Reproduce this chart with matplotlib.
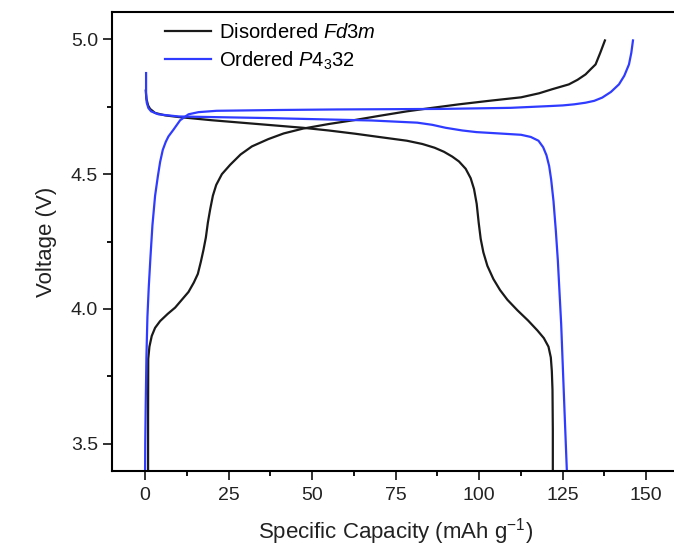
import matplotlib
matplotlib.use('Agg')
import matplotlib.pyplot as plt
from matplotlib.ticker import MultipleLocator, FormatStrFormatter

plt.rcParams['font.family'] = ['Liberation Sans', 'DejaVu Sans']
plt.rcParams['mathtext.fontset'] = 'custom'
plt.rcParams['mathtext.rm'] = 'Liberation Sans'
plt.rcParams['mathtext.it'] = 'Liberation Sans:italic'
plt.rcParams['lines.linewidth'] = 1.6
plt.rcParams['lines.solid_joinstyle'] = 'round'
plt.rcParams['axes.linewidth'] = 1.5
plt.rcParams['xtick.direction'] = 'out'
plt.rcParams['ytick.direction'] = 'out'

# disordered Fd3m, charge
dis_chg_cap = [0.9, 0.9, 0.95, 1.3, 2.0, 3.0, 4.5, 6.8, 9.0, 11.0, 13.0, 14.6, 15.8,
               16.7, 17.5, 18.2, 18.8, 19.5, 20.3, 21.3, 23.0, 25.5, 28.6, 32.0, 36.9,
               41.5, 47.3, 55.0, 62.9, 70.0, 78.4, 86.0, 94.0, 103.0, 112.6, 118.0,
               121.9, 126.9, 129.5, 131.9, 133.5, 134.9, 136.3, 137.7]
dis_chg_v = [3.40, 3.60, 3.815, 3.86, 3.90, 3.93, 3.955, 3.982, 4.005, 4.034, 4.063,
             4.098, 4.13, 4.175, 4.22, 4.265, 4.32, 4.37, 4.42, 4.46, 4.50, 4.535,
             4.573, 4.603, 4.630, 4.651, 4.669, 4.686, 4.701, 4.716, 4.733, 4.746,
             4.759, 4.772, 4.785, 4.80, 4.815, 4.833, 4.85, 4.870, 4.89, 4.907, 4.95,
             4.996]

# disordered Fd3m, discharge
dis_dchg_cap = [0.2, 0.4, 0.9, 1.5, 3.0, 6.0, 10.0, 20.0, 31.7, 47.3, 55.0, 62.9, 70.0,
                78.4, 83.0, 86.7, 89.5, 92.0, 94.0, 96.0, 97.5, 98.5, 99.3, 99.9, 100.5,
                101.3, 102.5, 104.3, 106.3, 108.5, 111.5, 114.7, 117.5, 119.4, 120.8,
                121.5, 121.8, 122.0, 122.1, 122.1]
dis_dchg_v = [4.81, 4.78, 4.755, 4.742, 4.727, 4.718, 4.712, 4.70, 4.688, 4.672, 4.662,
              4.650, 4.638, 4.624, 4.612, 4.598, 4.583, 4.565, 4.547, 4.52, 4.485, 4.445,
              4.39, 4.32, 4.26, 4.21, 4.16, 4.111, 4.07, 4.034, 3.995, 3.957, 3.92,
              3.892, 3.86, 3.82, 3.77, 3.70, 3.55, 3.40]

# ordered P4332, charge
ord_chg_cap = [0.0, 0.05, 0.2, 0.4, 0.7, 1.1, 1.6, 2.2, 3.0, 3.8, 4.5, 5.3, 6.2, 7.0,
               8.5, 10.5, 13.0, 16.0, 21.4, 40.0, 57.7, 88.8, 109.5, 121.9, 125.1,
               128.5, 131.9, 134.5, 136.9, 139.5, 141.9, 143.5, 144.9, 145.6, 146.1]
ord_chg_v = [3.40, 3.50, 3.65, 3.82, 3.97, 4.08, 4.19, 4.31, 4.42, 4.49, 4.545, 4.59,
             4.62, 4.64, 4.665, 4.70, 4.722, 4.73, 4.735, 4.738, 4.740, 4.742, 4.746,
             4.753, 4.755, 4.759, 4.765, 4.772, 4.784, 4.805, 4.833, 4.865, 4.907,
             4.95, 4.996]

# ordered P4332, discharge
ord_dchg_cap = [0.3, 0.3, 0.5, 1.0, 1.8, 4.0, 10.0, 36.9, 68.0, 81.5, 86.0, 90.0, 95.0,
                99.2, 106.0, 112.6, 115.5, 117.8, 119.2, 120.2, 121.0, 121.6, 122.3,
                123.0, 123.6, 124.6, 125.6, 126.3]
ord_dchg_v = [4.875, 4.80, 4.765, 4.745, 4.733, 4.722, 4.714, 4.708, 4.699, 4.691, 4.683,
              4.672, 4.662, 4.656, 4.651, 4.646, 4.638, 4.624, 4.60, 4.57, 4.53, 4.48,
              4.40, 4.29, 4.18, 3.944, 3.622, 3.40]

labels = ['Disordered $\\mathit{Fd}$3$\\mathit{m}$', 'Ordered $\\mathit{P}$4$_3$32']
colors = ['#1a1a1a', '#2f3cff']

x_ticks = [0, 25, 50, 75, 100, 125, 150]
y_ticks = [3.5, 4.0, 4.5, 5.0]


def plot_voltage_figure():
    fig = plt.figure(figsize=(6.74, 5.56), dpi=100)
    ax = fig.add_axes([0.1657, 0.1534, 0.8423, 0.8243])

    ax.plot(dis_chg_cap, dis_chg_v, color=colors[0], label=labels[0])
    ax.plot(dis_dchg_cap, dis_dchg_v, color=colors[0])
    ax.plot(ord_chg_cap, ord_chg_v, color=colors[1], label=labels[1])
    ax.plot(ord_dchg_cap, ord_dchg_v, color=colors[1])

    ax.set_xlim(-10, 160)
    ax.set_ylim(3.4, 5.1)
    ax.set_xticks(x_ticks)
    ax.set_yticks(y_ticks)
    ax.xaxis.set_minor_locator(MultipleLocator(12.5))
    ax.yaxis.set_minor_locator(MultipleLocator(0.25))
    ax.yaxis.set_major_formatter(FormatStrFormatter('%.1f'))
    ax.tick_params(which='major', length=6.7, width=1.3, labelsize=14, colors='#222222')
    ax.tick_params(which='minor', length=3.6, width=1.3)
    ax.tick_params(axis='x', pad=5)
    ax.tick_params(axis='y', pad=3)

    ax.set_xlabel('Specific Capacity (mAh g$^{\\mathregular{-1}}$)', fontsize=16,
                  labelpad=9, color='#222222')
    ax.set_ylabel('Voltage (V)', fontsize=16, labelpad=10, color='#222222')

    ax.legend(loc='upper left', bbox_to_anchor=(0.094, 0.976), frameon=False,
              fontsize=14.5, handlelength=2.3, handletextpad=0.4, labelspacing=0.35,
              borderpad=0, borderaxespad=0)

    fig.savefig('out.png', dpi=100)


plot_voltage_figure()
